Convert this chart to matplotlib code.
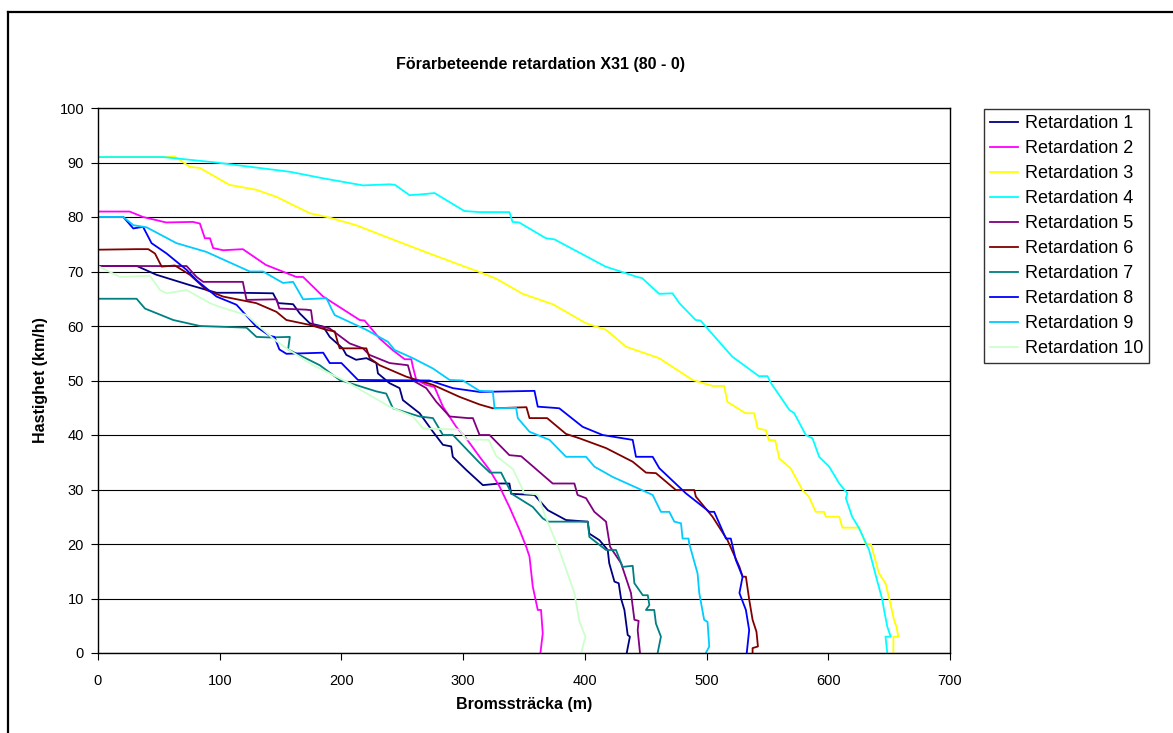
import matplotlib
matplotlib.use("Agg")
import matplotlib.pyplot as plt
from matplotlib.lines import Line2D

plt.rcParams['font.family'] = ['Liberation Sans', 'DejaVu Sans']

# (bromssträcka m, hastighet km/h) per run
r1 = [(0, 71), (32, 71), (48, 69.4), (75.5, 67.5), (97.4, 66.1), (116.5, 66.1), (143.8, 66), (148, 64.2),
      (160.3, 64), (165.8, 62.3), (174, 60.5), (185, 59.9), (190.4, 58), (201, 55.9), (204, 54.7), (212, 53.8),
      (220.5, 54.1), (228.7, 53.2), (230, 51.3), (239.6, 49.5), (247.8, 48.6), (250.5, 46.4), (264.2, 44),
      (275.2, 40.6), (283.4, 38.2), (290.2, 37.9), (291.5, 36), (302.5, 33.6), (316.2, 30.8), (330, 31.1),
      (338, 31.1), (339.5, 29.2), (358.6, 29), (369.6, 26.2), (384.5, 24.4), (402.4, 24.1), (403.7, 21.9),
      (412, 20.7), (418.8, 18.9), (420, 16.5), (424.3, 13.1), (427.8, 12.8), (429.7, 10), (432.5, 7.9),
      (435.2, 3.3), (437, 3), (434.4, 0)]
r2 = [(0, 81), (26, 81), (37, 80), (56, 79), (78, 79.1), (83.7, 78.8), (87.8, 76.1), (92, 76.1), (94.6, 74.3),
      (102.8, 73.9), (119, 74.1), (138, 71.2), (163, 69), (168.5, 69), (185, 65.4), (215, 61.1), (219, 61),
      (231.4, 57.7), (242, 55.6), (252, 53.9), (257.4, 53.9), (258.7, 52.5), (261.5, 50.1), (269.7, 49.2),
      (276.5, 48.8), (283.4, 45.2), (294.3, 41.5), (302.5, 39.4), (313.5, 36), (321.7, 33.6), (330, 30.5),
      (338, 26.8), (346.3, 22.6), (351.8, 19.5), (354.5, 17.7), (357.2, 12.2), (361.3, 7.9), (364, 7.9),
      (365.4, 3.6), (363.5, 0)]
r3 = [(0, 91), (55, 91), (63, 91.1), (75.5, 89.2), (83.7, 89), (108, 85.9), (130, 85), (146.6, 83.7),
      (174, 80.7), (190, 79.9), (212, 78.5), (239.6, 76.1), (270, 73.5), (300, 71), (313.5, 69.9), (327, 68.7),
      (349, 65.9), (373.6, 64), (401, 60.5), (417.4, 59.3), (433.8, 56.2), (461, 54.1), (488.5, 50.1),
      (505, 49), (514.5, 49), (517, 46.1), (532, 44), (539, 44), (542, 41.2), (548.7, 40.9), (551, 39.1),
      (556.4, 39), (559.7, 35.7), (569, 33.9), (578.8, 29.9), (584, 28.7), (589.7, 25.9), (596.6, 25.9),
      (598, 25), (609, 25), (611.6, 23), (625.3, 23), (630.8, 20), (635, 20), (641.7, 14.6), (647, 12.8),
      (651, 9.1), (654, 6.1), (656, 4.8), (657.6, 3), (653.5, 3), (653.5, 0)]
r4 = [(0, 91), (53.6, 91), (97, 90), (157.6, 88.3), (185, 87.1), (217.7, 85.8), (239.6, 86), (244, 85.9),
      (256, 84), (268, 84.2), (276.5, 84.4), (301, 81.1), (313.5, 80.9), (338, 80.9), (340.6, 79.1), (346, 79),
      (368, 76.1), (375, 75.9), (417, 70.9), (443, 69), (447, 68.8), (461, 65.9), (472, 66), (477.6, 64.2),
      (491, 61.1), (495, 61), (521, 54.4), (543, 50.8), (550, 50.8), (553, 49.5), (568, 44.6), (572, 44),
      (581.5, 40), (587, 39.4), (592.5, 36), (600.7, 34.2), (609, 31.1), (615.7, 29.3), (614.4, 28.4),
      (619.6, 25), (625.3, 22.9), (633.5, 18.9), (640, 13.4), (644.5, 9.7), (645.8, 7.9), (648.5, 4.8),
      (651.3, 3), (647, 3), (648.5, 0)]
r5 = [(0, 71), (72.8, 71), (81, 69), (86.4, 68.1), (119, 68.1), (122, 64.8), (124.7, 64.8), (146.6, 64.9),
      (149, 63.2), (171, 63), (175, 62.9), (176.7, 60.2), (190, 59.6), (206.8, 56.8), (217.7, 55.9), (223, 54.7),
      (239.6, 53.2), (254.6, 52.8), (258, 50.1), (269.7, 48.6), (277.9, 46.1), (288.9, 43.4), (304, 43.1),
      (308, 43.1), (313.5, 40), (321.7, 40), (338, 36.3), (347.7, 36.1), (373.6, 31.1), (391.4, 31.1),
      (394, 29), (401, 28.4), (407.8, 25.9), (417.4, 24.1), (420.7, 19.5), (429.7, 16.5), (437.9, 11),
      (440.7, 6.1), (444.2, 5.9), (443.4, 4.2), (445.3, 0)]
r6 = [(0, 74), (31.7, 74.1), (41.3, 74.1), (46.8, 73.3), (52.3, 70.9), (63.2, 71.1), (75.5, 69.4), (89.2, 66.6),
      (102.8, 65.4), (130, 64.2), (146.6, 62.6), (154.8, 61.1), (174, 60.2), (187.7, 59.3), (194.5, 59),
      (197.2, 56.8), (198.6, 55.9), (220.5, 55.9), (223.2, 54.1), (231.4, 52.8), (253.3, 50.7), (275.2, 49.2),
      (297, 47), (313.5, 45.6), (324.4, 44.9), (352, 45.1), (354.5, 43.1), (369, 43.1), (384.5, 40.2),
      (395.5, 39.4), (417.4, 37.6), (439.3, 35.1), (450.2, 33.1), (458.4, 33), (474.8, 29.9), (489.9, 29.9),
      (491.2, 28.7), (504.9, 25), (517.2, 20.7), (527, 15.8), (529.6, 14), (532.3, 14), (535.1, 9.7),
      (537.8, 6.1), (541, 3.9), (542.2, 1.2), (537.8, 0.9), (537.8, 0)]
r7 = [(0, 65), (31.7, 65), (38.6, 63.2), (61.8, 61.1), (83.7, 60), (122, 59.7), (130.2, 58), (141, 57.9),
      (157.6, 58), (156.2, 55.7), (182.2, 52.8), (198.6, 50.1), (228.7, 48), (236.8, 47.6), (242.3, 44.9),
      (264.2, 43.4), (275.2, 43.1), (283.4, 40), (291.6, 40), (313.5, 34.9), (322, 33.1), (331.2, 33.1),
      (340, 29.2), (357.2, 26.8), (365.4, 24.7), (370, 24.1), (402.4, 24.1), (403.7, 21.3), (417.4, 18.9),
      (425.6, 18.9), (431, 15.8), (439.3, 16), (440.7, 12.8), (447.6, 10.6), (451.7, 10.6), (453, 8.8),
      (450.2, 7.9), (457, 7.9), (458.4, 5.4), (462.5, 3), (459.8, 0)]
r8 = [(0, 80), (20.8, 80), (29, 77.9), (37, 78.2), (44, 75.2), (56.4, 73.3), (72.8, 70.3), (81, 68.4),
      (97.4, 65.4), (113.8, 63.9), (130, 59.9), (141, 58.2), (145, 58), (149, 55.7), (154.8, 54.9), (185, 55.1),
      (190.4, 53.2), (200, 53.2), (213.6, 50.1), (272.4, 50), (291.5, 48.6), (313.5, 47.9), (358.6, 48.1),
      (361.3, 45.2), (373.6, 45), (379, 44.9), (398.2, 41.5), (414.6, 40), (439.3, 39.1), (442, 36),
      (455.7, 36), (461.2, 33.9), (483, 29.3), (502.3, 25.9), (506.3, 25.9), (515.9, 21), (519.9, 21),
      (524, 17.1), (529.6, 14), (527, 11), (532.3, 7.9), (535, 4.2), (533, 0)]
r9 = [(0, 80), (20.8, 80), (29, 78.5), (40, 78.1), (64.5, 75.2), (89, 73.6), (124.7, 70), (135.6, 70),
      (152, 67.9), (160.3, 68.1), (168.5, 64.9), (187.7, 65.1), (191.7, 63.2), (194.5, 62), (220.5, 59.3),
      (238.2, 57.1), (243.7, 55.6), (258.7, 54.1), (275.2, 52.2), (288.9, 50.1), (299.8, 50), (313.5, 48.1),
      (324.4, 48), (325.8, 44.9), (343.5, 45), (344.9, 43.1), (354.5, 40.6), (371, 39.1), (384.5, 36),
      (401, 36), (407.8, 34.2), (422.9, 32.3), (455.7, 29), (462.5, 25.9), (469.4, 25.9), (473.5, 24.1),
      (479, 23.8), (480.3, 21), (485.2, 21), (485.7, 20.1), (492.6, 14.6), (494, 11), (498, 6.1),
      (500.8, 5.7), (502.2, 1.2), (499.4, 0)]
r10 = [(0, 71), (18, 69), (42.7, 69.2), (50.9, 66.6), (56.4, 66), (72.8, 66.6), (92, 64.2), (100, 63.5),
       (122, 62), (143.8, 57.7), (154.8, 55.9), (176.7, 52.8), (204, 49.8), (239.6, 45.2), (258.7, 43.4),
       (267, 41.2), (297, 41), (302.5, 39.2), (321, 39.1), (327, 36.2), (341, 33.7), (350.4, 29.3),
       (361.3, 29.1), (368, 24.8), (379, 18.9), (391.4, 11), (395.5, 5.8), (400.5, 3), (397, 0)]

runs = [r1, r2, r3, r4, r5, r6, r7, r8, r9, r10]
labels = ["Retardation %d" % i for i in range(1, 11)]
colors = ['#000080', '#FF00FF', '#FFFF00', '#00FFFF', '#800080',
          '#800000', '#008080', '#0000FF', '#00CCFF', '#CCFFCC']

fig = plt.figure(figsize=(11.73, 7.33), dpi=100)
ax = fig.add_axes([98 / 1173, 80 / 733, 852 / 1173, 545 / 733])

for run, lab, col in zip(runs, labels, colors):
    xs = [p[0] for p in run]
    ys = [p[1] for p in run]
    ax.plot(xs, ys, color=col, lw=1.3, label=lab)

ax.set_xlim(0, 700)
ax.set_ylim(0, 100)
ax.set_xticks(range(0, 701, 100))
ax.set_yticks(range(0, 101, 10))
ax.yaxis.grid(True, color='black', lw=0.8)
ax.set_axisbelow(True)
for s in ax.spines.values():
    s.set_color('black')
    s.set_linewidth(1.0)
ax.tick_params(axis='both', direction='out', length=5, width=0.8, labelsize=10.5)
ax.tick_params(axis='x', pad=10)
ax.tick_params(axis='y', pad=5)

fig.text(541 / 1173, 1 - 65 / 733, "Förarbeteende retardation X31 (80 - 0)",
         ha='center', va='center', fontsize=11.5, fontweight='bold')
fig.text(524 / 1173, 1 - 705 / 733, "Bromssträcka (m)",
         ha='center', va='center', fontsize=11.5, fontweight='bold')
fig.text(40 / 1173, 1 - 380 / 733, "Hastighet (km/h)", rotation=90,
         ha='center', va='center', fontsize=11.5, fontweight='bold')

leg = fig.legend(loc='upper left', bbox_to_anchor=(984 / 1173, 1 - 109 / 733),
                 fontsize=13, frameon=True, fancybox=False, shadow=False,
                 handlelength=1.55, handletextpad=0.35, labelspacing=0.44,
                 borderpad=0.35, borderaxespad=0)
leg.get_frame().set_edgecolor('black')
leg.get_frame().set_linewidth(1.0)

# outer chart border (only left and top visible in the original)
fig.add_artist(Line2D([8 / 1173, 8 / 1173], [0, 1 - 12 / 733], color='black', lw=1.6))
fig.add_artist(Line2D([8 / 1173, 1], [1 - 12 / 733, 1 - 12 / 733], color='black', lw=1.6))

fig.savefig("out.png", dpi=100)
